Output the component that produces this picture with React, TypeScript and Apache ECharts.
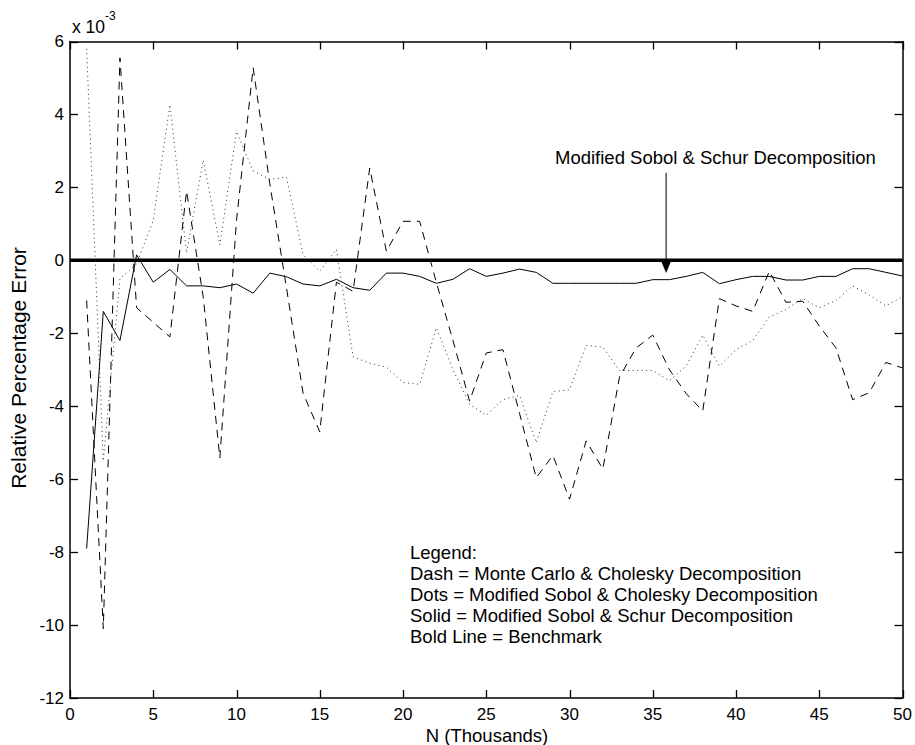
import React, { useEffect, useRef } from "react";
import * as echarts from "echarts";

// Sample size in thousands
const nThousands = [
  1, 2, 3, 4, 5, 6, 7, 8, 9, 10, 11, 12, 13, 14, 15, 16, 17, 18, 19, 20, 21, 22, 23, 24, 25,
  26, 27, 28, 29, 30, 31, 32, 33, 34, 35, 36, 37, 38, 39, 40, 41, 42, 43, 44, 45, 46, 47, 48, 49, 50,
];

// Relative percentage error, in units of 1e-3
const monteCarloCholesky = [
  -1.1, -10.1, 5.55, -1.3, -1.7, -2.1, 1.9, -1.0, -5.42, 1.1,
  5.28, 2.1, -0.75, -3.65, -4.7, -0.6, -0.85, 2.53, 0.25, 1.07,
  1.07, -0.6, -2.2, -3.86, -2.54, -2.45, -4.2, -5.96, -5.35, -6.55,
  -4.95, -5.72, -3.2, -2.4, -2.05, -3.0, -3.65, -4.13, -1.05, -1.25,
  -1.4, -0.3, -1.15, -1.12, -1.8, -2.4, -3.82, -3.63, -2.8, -2.95,
];

const sobolCholesky = [
  5.8, -5.5, -0.5, -0.1, 1.1, 4.27, 0.2, 2.75, 0.42, 3.53,
  2.45, 2.22, 2.28, 0.15, -0.3, 0.3, -2.65, -2.82, -2.93, -3.35,
  -3.4, -1.85, -3.0, -3.95, -4.25, -3.82, -3.7, -5.0, -3.6, -3.55,
  -2.33, -2.38, -3.02, -3.02, -3.02, -3.3, -2.9, -2.05, -2.9, -2.45,
  -2.2, -1.55, -1.35, -1.05, -1.3, -1.1, -0.7, -0.95, -1.25, -1.0,
];

const sobolSchur = [
  -7.9, -1.4, -2.2, 0.15, -0.6, -0.25, -0.7, -0.7, -0.75, -0.65,
  -0.9, -0.35, -0.45, -0.65, -0.7, -0.52, -0.75, -0.82, -0.35, -0.35,
  -0.44, -0.63, -0.52, -0.23, -0.44, -0.35, -0.24, -0.33, -0.63, -0.63,
  -0.63, -0.63, -0.63, -0.63, -0.53, -0.53, -0.44, -0.33, -0.64, -0.53,
  -0.44, -0.44, -0.54, -0.54, -0.44, -0.44, -0.23, -0.23, -0.33, -0.43,
];

const benchmarkX = [0, 50];
const benchmarkValue = 0;

// Tick positions on the box frame
const xTicks = [0, 5, 10, 15, 20, 25, 30, 35, 40, 45, 50];
const yTicks = [-12, -10, -8, -6, -4, -2, 0, 2, 4, 6];

const legendLines = [
  "Legend:",
  "Dash = Monte Carlo & Cholesky Decomposition",
  "Dots = Modified Sobol & Cholesky Decomposition",
  "Solid = Modified Sobol & Schur Decomposition",
  "Bold Line = Benchmark",
];

const annotationText = "Modified Sobol & Schur Decomposition";
const arrowX = 35.8;
const arrowTop = 2.4;
const arrowTip = -0.35;

const FONT = "'Liberation Sans', Arial, Helvetica, sans-serif";
const TEXT_SIZE = 18.5;
const TICK_LEN = 8;

const pair = (xs: number[], ys: number[]) => xs.map((x, i) => [x, ys[i]]);
const crisp = (v: number) => Math.round(v) + 0.5;

export default function App() {
  const ref = useRef<HTMLDivElement>(null);

  useEffect(() => {
    if (!ref.current) return;
    const chart = echarts.init(ref.current, undefined, { renderer: "svg" });

    const axisCommon = {
      type: "value" as const,
      axisLine: { show: true, onZero: false, lineStyle: { color: "#000", width: 1.5 } },
      axisTick: { show: false },
      splitLine: { show: false },
    };

    chart.setOption({
      animation: false,
      backgroundColor: "#fff",
      grid: { left: 70, right: 12, top: 41.5, bottom: 47, containLabel: false },
      xAxis: [
        {
          ...axisCommon,
          position: "bottom",
          min: 0,
          max: 50,
          interval: 5,
          axisLabel: { color: "#000", fontSize: 17, fontFamily: FONT, margin: 8 },
        },
        {
          ...axisCommon,
          position: "top",
          min: 0,
          max: 50,
          interval: 5,
          axisLabel: { show: false },
        },
      ],
      yAxis: [
        {
          ...axisCommon,
          position: "left",
          min: -12,
          max: 6,
          interval: 2,
          axisLabel: { color: "#000", fontSize: 17, fontFamily: FONT, margin: 6 },
        },
        {
          ...axisCommon,
          position: "right",
          min: -12,
          max: 6,
          interval: 2,
          axisLabel: { show: false },
        },
      ],
      series: [
        {
          name: "Benchmark",
          type: "line",
          data: benchmarkX.map((x) => [x, benchmarkValue]),
          symbol: "none",
          lineStyle: { color: "#000", width: 3.5 },
          z: 1,
        },
        {
          name: "Dash",
          type: "line",
          data: pair(nThousands, monteCarloCholesky),
          symbol: "none",
          lineStyle: { color: "#000", width: 1, type: [8, 6] },
          z: 2,
        },
        {
          name: "Dots",
          type: "line",
          data: pair(nThousands, sobolCholesky),
          symbol: "none",
          lineStyle: { color: "#333", width: 1, type: [1, 3.5] },
          z: 2,
        },
        {
          name: "Solid",
          type: "line",
          data: pair(nThousands, sobolSchur),
          symbol: "none",
          lineStyle: { color: "#000", width: 1 },
          z: 3,
        },
      ],
    });

    const toPx = (x: number, y: number) =>
      chart.convertToPixel({ xAxisIndex: 0, yAxisIndex: 0 }, [x, y]) as number[];

    const [ax, ayTop] = toPx(arrowX, arrowTop);
    const [, ayTip] = toPx(arrowX, arrowTip);

    // Inward ticks on all four sides of the box
    const tickLines: any[] = [];
    const tick = (x1: number, y1: number, x2: number, y2: number) => ({
      type: "line",
      z: 100,
      shape: { x1, y1, x2, y2 },
      style: { stroke: "#000", lineWidth: 1.3 },
    });
    xTicks.forEach((t) => {
      const [px, bottomY] = toPx(t, -12);
      const [, topY] = toPx(t, 6);
      const cx = crisp(px);
      tickLines.push(tick(cx, bottomY, cx, bottomY - TICK_LEN), tick(cx, topY, cx, topY + TICK_LEN));
    });
    yTicks.forEach((t) => {
      const [leftX, py] = toPx(0, t);
      const [rightX] = toPx(50, t);
      const cy = crisp(py);
      tickLines.push(tick(leftX, cy, leftX + TICK_LEN, cy), tick(rightX, cy, rightX - TICK_LEN, cy));
    });

    chart.setOption({
      graphic: [
        ...tickLines,
        {
          type: "text",
          left: 72,
          top: 18,
          style: { text: "x 10", fontSize: 17.5, fontFamily: FONT, fill: "#000" },
        },
        {
          type: "text",
          left: 105,
          top: 10,
          style: { text: "-3", fontSize: 12, fontFamily: FONT, fill: "#000" },
        },
        {
          type: "text",
          x: 18,
          y: 368,
          rotation: Math.PI / 2,
          style: {
            text: "Relative Percentage Error",
            fontSize: 21,
            fontFamily: FONT,
            fill: "#000",
            align: "center",
            verticalAlign: "middle",
          },
        },
        {
          type: "text",
          x: 487,
          y: 735,
          style: {
            text: "N (Thousands)",
            fontSize: TEXT_SIZE,
            fontFamily: FONT,
            fill: "#000",
            align: "center",
            verticalAlign: "middle",
          },
        },
        {
          type: "text",
          x: 555,
          y: 157,
          style: {
            text: annotationText,
            fontSize: TEXT_SIZE,
            fontFamily: FONT,
            fill: "#000",
            align: "left",
            verticalAlign: "middle",
          },
        },
        {
          type: "line",
          shape: { x1: ax, y1: ayTop, x2: ax, y2: ayTip - 10 },
          style: { stroke: "#000", lineWidth: 1 },
        },
        {
          type: "polygon",
          shape: {
            points: [
              [ax - 5, ayTip - 12],
              [ax + 5, ayTip - 12],
              [ax, ayTip],
            ],
          },
          style: { fill: "#000" },
        },
        {
          type: "text",
          x: 410,
          y: 542,
          style: {
            text: legendLines.join("\n"),
            fontSize: TEXT_SIZE,
            lineHeight: 21,
            fontFamily: FONT,
            fill: "#000",
            align: "left",
            verticalAlign: "top",
          },
        },
      ],
    });

    return () => chart.dispose();
  }, []);

  return (
    <div
      ref={ref}
      style={{ position: "fixed", left: 0, top: 0, width: 915, height: 745, background: "#fff" }}
    />
  );
}
